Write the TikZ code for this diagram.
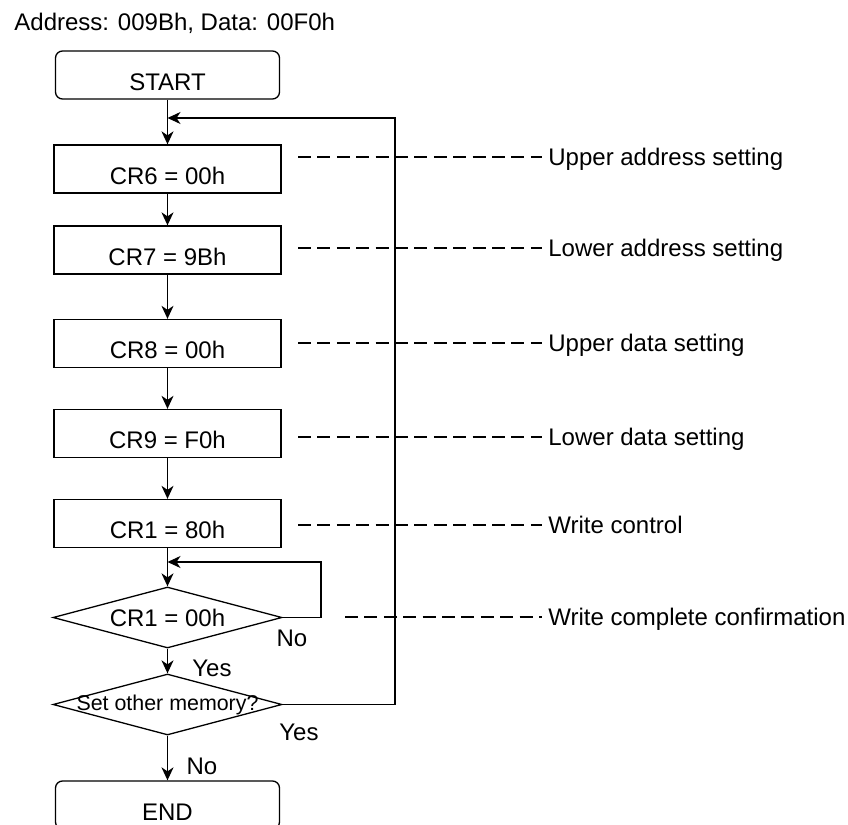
\documentclass[tikz,border=0pt]{standalone}
\usepackage{fontspec}
\setmainfont{Liberation Sans}
\usetikzlibrary{shapes.geometric,arrows.meta}
\begin{document}
\begin{tikzpicture}[x=0.5pt,y=-0.5pt,
  every node/.style={font=\fontsize{12}{14}\selectfont},
  procbox/.style={draw, line width=0.65pt, minimum width=113.5pt, minimum height=24pt, inner sep=0pt, text height=15.1pt, text depth=0pt},
  termbox/.style={procbox, rounded corners=3.5pt, minimum width=112pt},
  decbox/.style={draw, line width=0.65pt, diamond, minimum width=114.5pt, minimum height=30.5pt, inner sep=0pt},
  arr/.style={line width=0.65pt, -{Stealth[length=6.5pt,width=6pt,inset=2pt]}},
  dashline/.style={line width=0.65pt, dash pattern=on 6.5pt off 3.2pt},
  note/.style={anchor=west, inner xsep=3pt, inner ysep=0pt, text height=8.6pt, text depth=0pt},
  lbl/.style={anchor=base, inner sep=0pt}
]
\useasboundingbox (0,0) rectangle (848,825);
\clip (0,0) rectangle (848,825);

\node[anchor=base west, inner sep=0pt] (title) at (14,30) {Address: 009Bh, Data: 00F0h};

\node[termbox] (start) at (167.5,75) {START};
\node[procbox] (cr6) at (167.5,169) {CR6 = 00h};
\node[procbox] (cr7) at (167.5,250) {CR7 = 9Bh};
\node[procbox] (cr8) at (167.5,343.5) {CR8 = 00h};
\node[procbox] (cr9) at (167.5,433.5) {CR9 = F0h};
\node[procbox] (cr1) at (167.5,523.5) {CR1 = 80h};
\node[decbox, label={center:CR1 = 00h}] (d1) at (167.5,617.5) {};
\node[decbox, label={[font=\fontsize{10.7}{12}\selectfont]center:Set other memory?}] (d2) at (167.5,704.5) {};
\node[termbox] (end) at (167.5,805) {END};

\coordinate (j1) at (167.5,118);
\coordinate (rt1) at (395,118);
\coordinate (j2) at (167.5,562);
\coordinate (rt2) at (321,562);

\draw[arr] (start) -- (cr6);
\draw[arr] (cr6) -- (cr7);
\draw[arr] (cr7) -- (cr8);
\draw[arr] (cr8) -- (cr9);
\draw[arr] (cr9) -- (cr1);
\draw[arr] (cr1) -- (d1);
\draw[arr] (d1) -- (d2);
\draw[arr] (d2) -- (end);
\draw[arr] (d1.east) -| (rt2) -- (j2);
\draw[arr] (d2.east) -| (rt1) -- (j1);

\node[lbl] (no1) at (292,646) {No};
\node[lbl] (yes1) at (212,676) {Yes};
\node[lbl] (yes2) at (299,740) {Yes};
\node[lbl] (no2) at (202,774) {No};

\coordinate (c1) at (298,157);
\coordinate (c2) at (298,248);
\coordinate (c3) at (298,343);
\coordinate (c4) at (298,437);
\coordinate (c5) at (298,525);
\coordinate (c6) at (345,617);
\node[note] (l1) at (542,157) {Upper address setting};
\node[note] (l2) at (542,248) {Lower address setting};
\node[note] (l3) at (542,343) {Upper data setting};
\node[note] (l4) at (542,437) {Lower data setting};
\node[note] (l5) at (542,525) {Write control};
\node[note] (l6) at (542,617) {Write complete confirmation};
\draw[dashline] (c1) -- (l1.west);
\draw[dashline] (c2) -- (l2.west);
\draw[dashline] (c3) -- (l3.west);
\draw[dashline] (c4) -- (l4.west);
\draw[dashline] (c5) -- (l5.west);
\draw[dashline] (c6) -- (l6.west);
\end{tikzpicture}
\end{document}
